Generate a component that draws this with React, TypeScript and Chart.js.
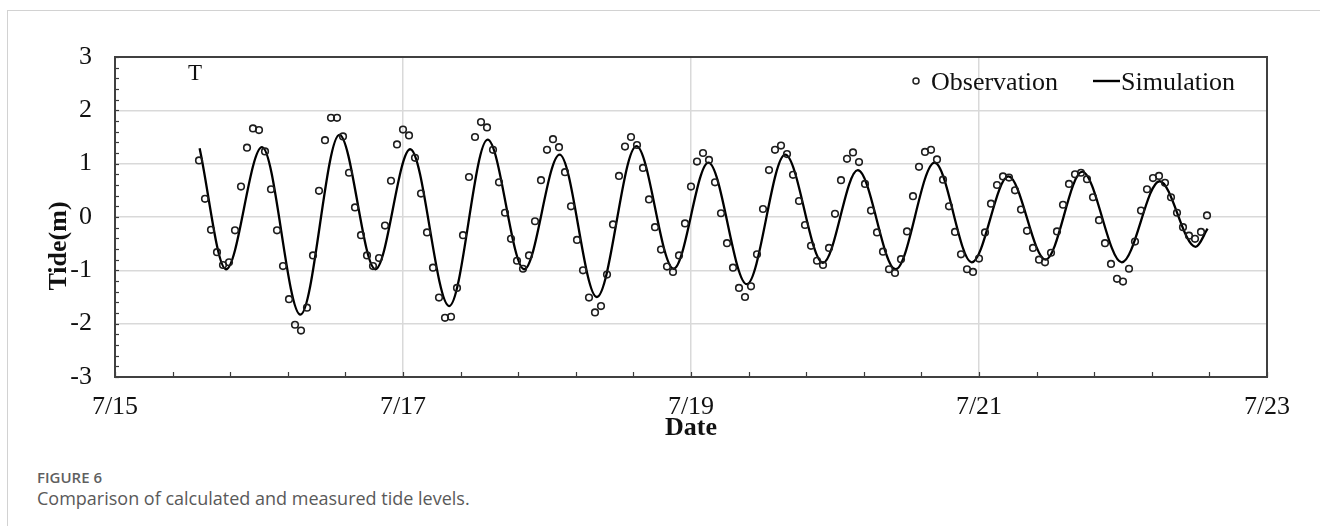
import React, { useEffect, useRef } from 'react';
import { Chart, registerables } from 'chart.js';

Chart.register(...registerables);

// Observations: hourly, starting 7/15 14:00 (hour 14 counted from 7/15 00:00)
const OBS_START_HOUR = 14;
const observation = [
  1.06, 0.34, -0.24, -0.66, -0.9, -0.85, -0.25, 0.57, 1.3, 1.66,
  1.63, 1.23, 0.52, -0.25, -0.92, -1.54, -2.02, -2.13, -1.7, -0.72,
  0.49, 1.44, 1.86, 1.86, 1.51, 0.83, 0.18, -0.34, -0.72, -0.92,
  -0.77, -0.16, 0.68, 1.36, 1.64, 1.53, 1.11, 0.44, -0.29, -0.95,
  -1.51, -1.89, -1.87, -1.33, -0.34, 0.75, 1.5, 1.78, 1.68, 1.26,
  0.65, 0.08, -0.41, -0.82, -0.97, -0.72, -0.08, 0.69, 1.26, 1.46,
  1.31, 0.84, 0.2, -0.43, -1.0, -1.51, -1.79, -1.67, -1.08, -0.14,
  0.77, 1.32, 1.5, 1.35, 0.92, 0.33, -0.19, -0.61, -0.93, -1.03,
  -0.72, -0.12, 0.57, 1.04, 1.2, 1.07, 0.65, 0.07, -0.49, -0.95,
  -1.33, -1.5, -1.3, -0.7, 0.15, 0.88, 1.26, 1.34, 1.18, 0.79,
  0.3, -0.15, -0.54, -0.82, -0.9, -0.58, 0.06, 0.69, 1.09, 1.21,
  1.03, 0.62, 0.12, -0.29, -0.65, -0.98, -1.05, -0.79, -0.27, 0.39,
  0.94, 1.22, 1.26, 1.08, 0.7, 0.2, -0.28, -0.7, -0.98, -1.03,
  -0.78, -0.29, 0.25, 0.6, 0.76, 0.74, 0.5, 0.14, -0.26, -0.58,
  -0.8, -0.85, -0.67, -0.27, 0.23, 0.62, 0.8, 0.83, 0.71, 0.37,
  -0.06, -0.49, -0.88, -1.16, -1.21, -0.97, -0.46, 0.12, 0.52, 0.73,
  0.77, 0.64, 0.37, 0.08, -0.19, -0.35, -0.41, -0.28, 0.03,
];

// Simulation: turning points of the simulated curve (hours from 7/15 00:00)
const simHours = [
  14.1, 18.5, 24.5, 30.9, 37.4, 43.4, 49.2, 55.7, 62.1, 68.2,
  74.1, 80.3, 86.9, 93.1, 98.9, 105.3, 111.7, 118.0, 123.8, 130.1,
  136.6, 142.8, 148.9, 155.1, 161.2, 167.8, 174.1, 180.1, 182.1,
];
const simulation = [
  1.29, -0.98, 1.31, -1.83, 1.54, -0.98, 1.27, -1.67, 1.45, -0.98,
  1.17, -1.5, 1.33, -0.97, 1.02, -1.26, 1.17, -0.86, 0.88, -0.98,
  1.02, -0.85, 0.76, -0.8, 0.85, -0.85, 0.67, -0.56, -0.22,
];

const X_MIN_DAY = 15;
const X_MAX_DAY = 23;
const xTickDays = [15, 17, 19, 21, 23];
const xTickLabels = ['7/15', '7/17', '7/19', '7/21', '7/23'];
const Y_MIN = -3;
const Y_MAX = 3;

const SERIF = '"Liberation Serif", "Times New Roman", serif';
const GRID = '#d9d9d9';

Chart.defaults.font.family = SERIF;

const near = (a: number, b: number) => Math.abs(a - b) < 1e-6;

export default function App() {
  const ref = useRef<HTMLCanvasElement | null>(null);

  useEffect(() => {
    const canvas = ref.current;
    if (!canvas) return;

    const obsPts = observation.map((v, i) => ({ x: X_MIN_DAY + (OBS_START_HOUR + i) / 24, y: v }));
    const simPts = simHours.map((h, i) => ({ x: X_MIN_DAY + h / 24, y: simulation[i] }));

    const decor = {
      id: 'decor',
      afterDatasetsDraw(chart: any) {
        const { ctx, chartArea: a, scales } = chart;
        ctx.save();
        // inner tick marks
        ctx.strokeStyle = '#3a3a3a';
        ctx.lineWidth = 1.2;
        for (let k = 0; k <= 30; k++) {
          const y = Math.round(scales.y.getPixelForValue(Y_MIN + k * 0.2)) + 0.5;
          ctx.beginPath();
          ctx.moveTo(a.left, y);
          ctx.lineTo(a.left + 4, y);
          ctx.stroke();
        }
        for (let k = 0; k <= 20; k++) {
          const x = Math.round(scales.x.getPixelForValue(X_MIN_DAY + k * 0.4)) + 0.5;
          ctx.beginPath();
          ctx.moveTo(x, a.bottom);
          ctx.lineTo(x, a.bottom - 5);
          ctx.stroke();
        }
        // frame
        ctx.strokeStyle = '#404040';
        ctx.lineWidth = 2;
        ctx.strokeRect(a.left, a.top, a.right - a.left, a.bottom - a.top);

        // panel letter
        ctx.fillStyle = '#111';
        ctx.font = `23px ${SERIF}`;
        ctx.textAlign = 'left';
        ctx.textBaseline = 'alphabetic';
        ctx.fillText('T', 188, 80);

        // legend
        ctx.font = `26px ${SERIF}`;
        ctx.strokeStyle = '#222';
        ctx.lineWidth = 1.5;
        ctx.beginPath();
        ctx.arc(916, 81, 3, 0, Math.PI * 2);
        ctx.stroke();
        ctx.fillText('Observation', 931, 90);
        ctx.strokeStyle = '#000';
        ctx.lineWidth = 2.4;
        ctx.beginPath();
        ctx.moveTo(1093, 81);
        ctx.lineTo(1120, 81);
        ctx.stroke();
        ctx.fillText('Simulation', 1121, 90);

        // y axis title
        ctx.font = `bold 26px ${SERIF}`;
        ctx.translate(66, 246);
        ctx.rotate(-Math.PI / 2);
        ctx.textAlign = 'center';
        ctx.fillText('Tide(m)', 0, 0);
        ctx.restore();
      },
    };

    const chart = new Chart(canvas, {
      type: 'line',
      data: {
        datasets: [
          {
            label: 'Observation',
            data: obsPts,
            showLine: false,
            pointRadius: 3.3,
            pointBorderWidth: 1.6,
            pointBorderColor: '#1e1e1e',
            pointBackgroundColor: 'rgba(0,0,0,0)',
            borderColor: '#1e1e1e',
          },
          {
            label: 'Simulation',
            data: simPts,
            borderColor: '#000',
            borderWidth: 2.3,
            pointRadius: 0,
            cubicInterpolationMode: 'monotone',
            fill: false,
          },
        ],
      },
      options: {
        animation: false,
        responsive: false,
        devicePixelRatio: 1,
        layout: { padding: { left: 0, top: 57, right: 53, bottom: 0 } },
        plugins: { legend: { display: false }, tooltip: { enabled: false } },
        scales: {
          x: {
            type: 'linear',
            min: X_MIN_DAY,
            max: X_MAX_DAY,
            afterFit: (s: any) => { s.height = 83; },
            ticks: {
              stepSize: 0.4,
              autoSkip: false,
              maxRotation: 0,
              padding: 15,
              color: '#111',
              font: { family: SERIF, size: 26 },
              callback: (v: any) => {
                const idx = xTickDays.findIndex((d) => near(d, Number(v)));
                return idx >= 0 ? xTickLabels[idx] : '';
              },
            },
            grid: {
              drawTicks: false,
              lineWidth: 1.5,
              color: (c: any) => {
                const v = c.tick ? c.tick.value : NaN;
                return xTickDays.some((d) => near(d, v)) && !near(v, X_MIN_DAY) && !near(v, X_MAX_DAY)
                  ? GRID
                  : 'rgba(0,0,0,0)';
              },
            },
            border: { display: false },
            title: {
              display: true,
              text: 'Date',
              color: '#111',
              font: { family: SERIF, size: 26, weight: 'bold' },
              padding: { top: 0, bottom: 16 },
            },
          },
          y: {
            type: 'linear',
            min: Y_MIN,
            max: Y_MAX,
            afterFit: (s: any) => { s.width = 115; },
            ticks: {
              stepSize: 0.2,
              autoSkip: false,
              padding: 23,
              color: '#111',
              font: { family: SERIF, size: 26 },
              callback: (v: any) => {
                const n = Number(v);
                return near(n, Math.round(n)) ? String(Math.round(n) === 0 ? 0 : Math.round(n)) : '';
              },
            },
            grid: {
              drawTicks: false,
              lineWidth: 1.5,
              color: (c: any) => {
                const v = c.tick ? c.tick.value : NaN;
                return near(v, Math.round(v)) && !near(v, Y_MIN) && !near(v, Y_MAX) ? GRID : 'rgba(0,0,0,0)';
              },
            },
            border: { display: false },
          },
        },
      },
      plugins: [decor],
    });

    return () => chart.destroy();
  }, []);

  return (
    <div style={{ position: 'absolute', left: 0, top: 0, width: 1320, height: 530, overflow: 'hidden', background: '#fff' }}>
      <div
        style={{
          position: 'absolute',
          left: 7,
          top: 10,
          width: 1340,
          height: 515,
          borderLeft: '1px solid #d2d2d2',
          borderTop: '1px solid #d2d2d2',
        }}
      />
      <canvas
        ref={ref}
        width={1320}
        height={460}
        style={{ position: 'absolute', left: 0, top: 0, width: 1320, height: 460, display: 'block' }}
      />
      <div
        style={{
          position: 'absolute',
          left: 37,
          top: 470,
          fontFamily: '"Open Sans", sans-serif',
          fontWeight: 600,
          fontSize: 15,
          lineHeight: '15px',
          color: '#5f5f5f',
          whiteSpace: 'nowrap',
        }}
      >
        FIGURE 6
      </div>
      <div
        style={{
          position: 'absolute',
          left: 37,
          top: 489,
          fontFamily: '"Open Sans", sans-serif',
          fontWeight: 400,
          fontSize: 18,
          lineHeight: '18px',
          color: '#595959',
          whiteSpace: 'nowrap',
        }}
      >
        Comparison of calculated and measured tide levels.
      </div>
    </div>
  );
}
